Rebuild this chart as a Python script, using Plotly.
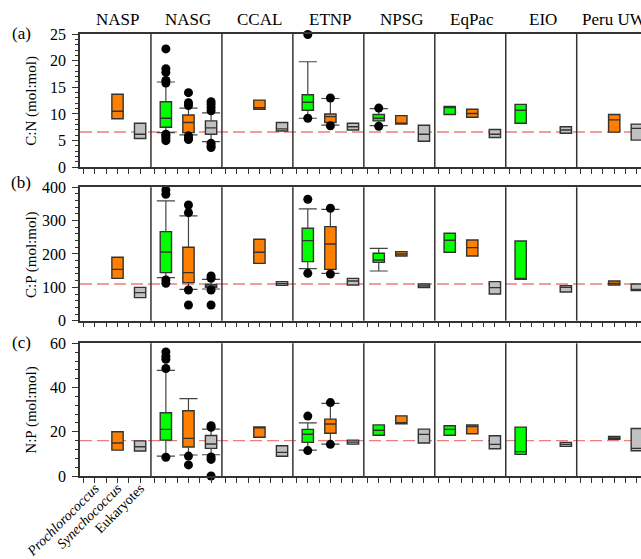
import plotly.graph_objects as go

REGIONS = ["NASP", "NASG", "CCAL", "ETNP", "NPSG", "EqPac", "EIO", "Peru UW"]
GROUP_LABELS = ["<i>Prochlorococcus</i>", "<i>Synechococcus</i>", "Eukaryotes"]
GROUP_COLORS = ["#00FF00", "#FF8000", "#C0C0C0"]

# Box statistics per region: (q1, median, q3, whisker_low, whisker_high); None = no data
# ---- (a) C:N ----
CN_PRO = [None, (7.5, 9.2, 12.3, 6.5, 16.0), None, (10.7, 12.2, 13.6, 9.2, 19.8),
          (8.7, 9.2, 9.9, 7.8, 11.0), (9.9, 11.2, 11.4, None, None), (8.25, 10.7, 11.8, None, None), None]
CN_SYN = [(9.1, 10.5, 13.7, None, None), (6.5, 8.4, 9.8, 6.1, 11.1), (10.9, 11.2, 12.6, None, None),
          (8.4, 9.5, 10.0, 7.9, 12.9), (8.1, 8.2, 9.7, None, None), (9.4, 10.1, 10.9, None, None),
          None, (6.6, 8.9, 9.9, None, None)]
CN_EUK = [(5.4, 6.2, 8.25, None, None), (6.2, 7.4, 8.7, 4.8, 10.2), (6.8, 7.2, 8.4, None, None),
          (7.0, 7.6, 8.25, None, None), (4.9, 6.2, 7.9, None, None), (5.6, 6.2, 7.1, None, None),
          (6.4, 7.0, 7.6, None, None), (5.1, 7.3, 8.1, None, None)]
CN_PRO_OUT = [[], [22.2, 18.5, 17.8, 16.3, 15.8, 6.2, 5.9, 5.5, 5.0], [], [24.9, 9.2], [11.1, 7.7], [], [], []]
CN_SYN_OUT = [[], [14.0, 12.1, 11.6, 5.9, 5.4, 5.2], [], [13.0, 7.8], [], [], [], []]
CN_EUK_OUT = [[], [12.3, 11.8, 11.2, 10.6, 4.5, 4.0, 3.7], [], [], [], [], [], []]

# ---- (b) C:P ----
CP_PRO = [None, (144, 206, 267, 129, 359), None, (177, 240, 277, 156, 335),
          (175, 182, 202, 149, 217), (205, 241, 262, None, None), (124, 127, 239, None, None), None]
CP_SYN = [(127, 154, 190, None, None), (114, 144, 220, 94, 314), (172, 205, 244, None, None),
          (154, 230, 282, 142, 334), (194, 200, 207, None, None), (194, 219, 242, None, None),
          None, (107, 112, 119, None, None)]
CP_EUK = [(69, 84, 100, None, None), (100, 104, 109, 95, 124), (106, 111, 117, None, None),
          (107, 119, 127, None, None), (99, 104, 110, None, None), (80, 99, 117, None, None),
          (86, 100, 105, None, None), (90, 94, 110, None, None)]
CP_PRO_OUT = [[], [392, 379, 122, 112], [], [364, 142], [], [], [], []]
CP_SYN_OUT = [[], [347, 324, 92, 47], [], [337, 140], [], [], [], []]
CP_EUK_OUT = [[], [134, 127, 92, 47], [], [], [], [], [], []]

# ---- (c) N:P ----
NP_PRO = [None, (16.2, 21.1, 28.6, 9.0, 47.8), None, (15.2, 18.9, 21.1, 11.7, 24.0),
          (18.4, 20.7, 23.1, None, None), (18.4, 21.1, 22.7, None, None), (9.8, 11.0, 22.1, None, None), None]
NP_SYN = [(11.7, 14.9, 20.0, None, None), (13.1, 17.0, 29.5, 9.5, 35.0), (17.5, 21.8, 22.2, None, None),
          (19.3, 23.5, 25.7, 14.4, 32.8), (23.6, 23.7, 27.2, None, None), (19.1, 22.4, 23.1, None, None),
          None, (16.6, 17.2, 17.9, None, None)]
NP_EUK = [(11.3, 13.2, 15.9, None, None), (12.5, 14.5, 18.3, 9.6, 21.2), (8.9, 10.7, 13.7, None, None),
          (14.4, 15.3, 16.2, None, None), (14.9, 18.8, 21.2, None, None), (12.3, 14.3, 18.2, None, None),
          (13.4, 14.3, 15.2, None, None), (11.4, 12.5, 21.5, None, None)]
NP_PRO_OUT = [[], [56.1, 54.1, 52.8, 48.6, 8.5], [], [27.1, 11.5], [], [], [], []]
NP_SYN_OUT = [[], [9.0, 5.0], [], [33.2, 14.3], [], [], [], []]
NP_EUK_OUT = [[], [22.7, 22.0, 8.6, 7.5, 0.0], [], [], [], [], [], []]

REF_CN, REF_CP, REF_NP = 6.625, 110, 16

PANELS = [
    dict(name="(a)", title="C:N (mol:mol)", stats=[CN_PRO, CN_SYN, CN_EUK],
         outs=[CN_PRO_OUT, CN_SYN_OUT, CN_EUK_OUT], ref=REF_CN, rng=[0, 25], dtick=5, minor=1),
    dict(name="(b)", title="C:P (mol:mol)", stats=[CP_PRO, CP_SYN, CP_EUK],
         outs=[CP_PRO_OUT, CP_SYN_OUT, CP_EUK_OUT], ref=REF_CP, rng=[0, 400], dtick=100, minor=20),
    dict(name="(c)", title="N:P (mol:mol)", stats=[NP_PRO, NP_SYN, NP_EUK],
         outs=[NP_PRO_OUT, NP_SYN_OUT, NP_EUK_OUT], ref=REF_NP, rng=[0, 60], dtick=20, minor=4),
]

# layout geometry
W = 6.28          # region width in x units
X0 = -0.32        # left edge
XRANGE = [X0, 49.33]
CAP = 0.8
DOMAINS = [[0.6984, 1.0], [0.3514, 0.6532], [0.0, 0.3002]]
PANEL_LABEL_Y = [1.002, 0.665, 0.303]
FONT = "Liberation Serif, Times New Roman, serif"
LINE_C = "#333333"


def pos(k, g):
    return W * k + 1 + 2 * g


fig = go.Figure()
shapes = []
annotations = []

for pi, P in enumerate(PANELS):
    sfx = "" if pi == 0 else str(pi + 1)
    xa, ya = "x" + sfx, "y" + sfx
    for g in range(3):
        stats = P["stats"][g]
        # whiskers
        wx, wy = [], []
        for k, s in enumerate(stats):
            if s is None or s[3] is None:
                continue
            p = pos(k, g)
            wx += [p, p, None, p, p, None, p - CAP, p + CAP, None, p - CAP, p + CAP, None]
            wy += [s[2], s[4], None, s[0], s[3], None, s[4], s[4], None, s[3], s[3], None]
        # boxes
        bx, q1, md, q3 = [], [], [], []
        for k, s in enumerate(stats):
            if s is None:
                continue
            bx.append(pos(k, g)); q1.append(s[0]); md.append(s[1]); q3.append(s[2])
        fig.add_trace(go.Box(x=bx, q1=q1, median=md, q3=q3, lowerfence=q1, upperfence=q3,
                             width=1.0, fillcolor=GROUP_COLORS[g],
                             line=dict(color=LINE_C, width=1.4), boxpoints=False,
                             hoverinfo="skip", xaxis=xa, yaxis=ya, showlegend=False))
        if wx:
            fig.add_trace(go.Scatter(x=wx, y=wy, mode="lines", line=dict(color="#444444", width=1.2),
                                     hoverinfo="skip", xaxis=xa, yaxis=ya, showlegend=False))
        ox, oy = [], []
        for k, vals in enumerate(P["outs"][g]):
            for v in vals:
                ox.append(pos(k, g)); oy.append(v)
        if ox:
            fig.add_trace(go.Scatter(x=ox, y=oy, mode="markers", cliponaxis=False,
                                     marker=dict(color="black", size=9),
                                     hoverinfo="skip", xaxis=xa, yaxis=ya, showlegend=False))
    # separators
    for k in range(1, len(REGIONS)):
        xs = X0 + W * k
        shapes.append(dict(type="line", xref=xa, yref=ya + " domain", x0=xs, x1=xs, y0=0, y1=1,
                           line=dict(color=LINE_C, width=1.5), layer="above"))
    # reference line
    shapes.append(dict(type="line", xref=xa + " domain", yref=ya, x0=0, x1=1, y0=P["ref"], y1=P["ref"],
                       line=dict(color="#F07C7C", width=1.3, dash="12px,5px"), layer="below"))
    # y title & panel label
    annotations.append(dict(text=P["title"], xref="paper", yref=ya + " domain", x=-0.0856, y=0.5,
                            textangle=-90, showarrow=False, xanchor="center", yanchor="middle",
                            font=dict(family=FONT, size=15, color="black")))
    annotations.append(dict(text=P["name"], xref="paper", yref="paper", x=-0.105, y=PANEL_LABEL_Y[pi],
                            showarrow=False, xanchor="center", yanchor="middle",
                            font=dict(family=FONT, size=17, color="black")))

    tickvals = [W * k + j for k in range(len(REGIONS)) for j in range(6)]
    ticktext = [""] * len(tickvals)
    if pi == 2:
        for g in range(3):
            ticktext[1 + 2 * g] = GROUP_LABELS[g]
    xaxis = dict(domain=[0, 1], anchor=ya, range=XRANGE, showline=True, linecolor=LINE_C, linewidth=1.5,
                 mirror=True, showgrid=False, zeroline=False, ticks="outside", ticklen=5,
                 tickcolor=LINE_C, tickwidth=1, tickmode="array", tickvals=tickvals, ticktext=ticktext,
                 showticklabels=(pi == 2), tickangle=-45, automargin=False, ticklabelstandoff=-8,
                 tickfont=dict(family=FONT, size=14, color="black"))
    yaxis = dict(domain=DOMAINS[pi], anchor=xa, range=P["rng"], showline=True, linecolor=LINE_C,
                 linewidth=1.5, showgrid=False, zeroline=False, ticks="outside", ticklen=6,
                 tickcolor=LINE_C, dtick=P["dtick"], tick0=0, ticklabelstandoff=3, automargin=False,
                 tickfont=dict(family=FONT, size=16, color="black"),
                 minor=dict(ticks="outside", ticklen=3, dtick=P["minor"], tick0=0, tickcolor=LINE_C))
    fig.layout["xaxis" + sfx] = xaxis
    fig.layout["yaxis" + sfx] = yaxis

# region headers
for k, name in enumerate(REGIONS):
    annotations.append(dict(text=name, xref="x", yref="paper", x=pos(k, 1), y=1.0317,
                            showarrow=False, xanchor="center", yanchor="middle",
                            font=dict(family=FONT, size=17, color="black")))

fig.update_layout(width=641, height=559, margin=dict(l=80, r=0, t=34, b=83, autoexpand=False),
                  paper_bgcolor="white", plot_bgcolor="white", showlegend=False,
                  shapes=shapes, annotations=annotations, font=dict(family=FONT, color="black"))

fig.write_html("out.html", config={"displayModeBar": False},
               post_script="document.body.style.margin='0px';"
                           "document.body.style.overflow='hidden';")
